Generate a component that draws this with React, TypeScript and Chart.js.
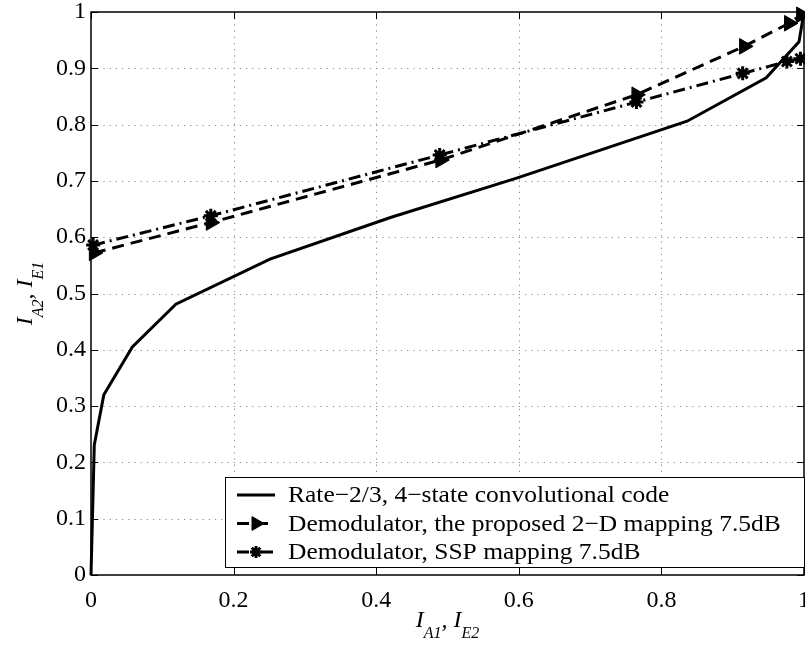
import React, { useEffect, useRef } from "react";
import { Chart, registerables } from "chart.js";

Chart.register(...registerables);

// ---- data ----
const codeX = [0, 0.0046, 0.018, 0.058, 0.119, 0.251, 0.42, 0.597, 0.836, 0.947, 0.993, 1];
const codeY = [0, 0.231, 0.32, 0.405, 0.481, 0.561, 0.635, 0.705, 0.806, 0.883, 0.947, 1];

const prop2dX = [0.004, 0.168, 0.49, 0.765, 0.916, 0.979, 0.996];
const prop2dY = [0.572, 0.626, 0.737, 0.853, 0.939, 0.98, 0.995];

const sspX = [0.003, 0.168, 0.489, 0.765, 0.914, 0.976, 0.995];
const sspY = [0.586, 0.638, 0.746, 0.84, 0.891, 0.912, 0.917];

const seriesLabels = [
  "Rate\u22122/3, 4\u2212state convolutional code",
  "Demodulator, the proposed 2\u2212D mapping 7.5dB",
  "Demodulator, SSP mapping 7.5dB",
];

const xTickValues = [0, 0.2, 0.4, 0.6, 0.8, 1];
const yTickValues = [0, 0.1, 0.2, 0.3, 0.4, 0.5, 0.6, 0.7, 0.8, 0.9, 1];

const FONT = "'Liberation Serif', 'Times New Roman', serif";

const toPts = (xs: number[], ys: number[]) => xs.map((x, i) => ({ x, y: ys[i] }));
const fmt = (v: number) => (Math.abs(v) < 1e-9 ? "0" : Math.abs(v - 1) < 1e-9 ? "1" : String(Math.round(v * 10) / 10));

const DASH = [12, 7];
const DASHDOT = [12, 5, 2, 5];

function drawMarker(ctx: CanvasRenderingContext2D, style: string, x: number, y: number, r: number, bw: number) {
  ctx.save();
  ctx.fillStyle = "#000";
  ctx.strokeStyle = "#000";
  ctx.setLineDash([]);
  ctx.lineWidth = bw;
  if (style === "triangle") {
    ctx.beginPath();
    for (let k = 0; k < 3; k++) {
      const a = (k * 2 * Math.PI) / 3;
      const px = x + Math.cos(a) * r;
      const py = y + Math.sin(a) * r;
      if (k === 0) ctx.moveTo(px, py);
      else ctx.lineTo(px, py);
    }
    ctx.closePath();
    ctx.fill();
    ctx.stroke();
  } else if (style === "star") {
    ctx.beginPath();
    for (let k = 0; k < 4; k++) {
      const a = (k * Math.PI) / 4;
      ctx.moveTo(x - Math.cos(a) * r, y - Math.sin(a) * r);
      ctx.lineTo(x + Math.cos(a) * r, y + Math.sin(a) * r);
    }
    ctx.stroke();
  }
  ctx.restore();
}

const framePlugin = {
  id: "matlabFrame",
  beforeDatasetsDraw(chart: any) {
    const { ctx, chartArea: a, scales } = chart;
    ctx.save();
    ctx.strokeStyle = "#888";
    ctx.lineWidth = 1;
    ctx.setLineDash([1.2, 5]);
    xTickValues.forEach((v) => {
      const px = Math.round(scales.x.getPixelForValue(v)) + 0.5;
      if (v > 0 && v < 1) {
        ctx.beginPath();
        ctx.moveTo(px, a.top);
        ctx.lineTo(px, a.bottom);
        ctx.stroke();
      }
    });
    yTickValues.forEach((v) => {
      const py = Math.round(scales.y.getPixelForValue(v)) + 0.5;
      if (v > 0 && v < 1) {
        ctx.beginPath();
        ctx.moveTo(a.left, py);
        ctx.lineTo(a.right, py);
        ctx.stroke();
      }
    });
    ctx.restore();
  },
  afterDatasetsDraw(chart: any) {
    const { ctx, chartArea: a, scales } = chart;
    ctx.save();
    ctx.setLineDash([]);
    ctx.strokeStyle = "#000";
    ctx.lineWidth = 1.5;
    ctx.strokeRect(a.left, a.top, a.right - a.left, a.bottom - a.top);
    ctx.lineWidth = 1;
    const tl = 7;
    xTickValues.forEach((v) => {
      const px = Math.round(scales.x.getPixelForValue(v)) + 0.5;
      ctx.beginPath();
      ctx.moveTo(px, a.bottom);
      ctx.lineTo(px, a.bottom - tl);
      ctx.moveTo(px, a.top);
      ctx.lineTo(px, a.top + tl);
      ctx.stroke();
    });
    yTickValues.forEach((v) => {
      const py = Math.round(scales.y.getPixelForValue(v)) + 0.5;
      ctx.beginPath();
      ctx.moveTo(a.left, py);
      ctx.lineTo(a.left + tl, py);
      ctx.moveTo(a.right, py);
      ctx.lineTo(a.right - tl, py);
      ctx.stroke();
    });
    ctx.restore();
  },
  afterDraw(chart: any) {
    const { ctx, chartArea: a } = chart;
    ctx.save();
    // ---- legend ----
    const boxL = a.left + 134;
    const boxT = a.bottom - 98;
    const boxR = a.right;
    const boxB = a.bottom - 8;
    ctx.fillStyle = "#fff";
    ctx.fillRect(boxL, boxT, boxR - boxL, boxB - boxT);
    ctx.strokeStyle = "#000";
    ctx.lineWidth = 1;
    ctx.strokeRect(boxL + 0.5, boxT + 0.5, boxR - boxL, boxB - boxT);
    const rowY = [boxT + 18, boxT + 46.5, boxT + 75];
    const sx0 = boxL + 12;
    const sx1 = boxL + 50;
    const mx = (sx0 + sx1) / 2;
    chart.data.datasets.forEach((ds: any, i: number) => {
      const y = rowY[i];
      ctx.save();
      ctx.strokeStyle = "#000";
      ctx.lineWidth = ds.borderWidth;
      ctx.setLineDash(ds.borderDash || []);
      ctx.beginPath();
      ctx.moveTo(sx0, y);
      ctx.lineTo(sx1, y);
      ctx.stroke();
      ctx.restore();
      if (ds.pointStyle && ds.pointRadius > 0) {
        drawMarker(ctx, ds.pointStyle, mx, y, ds.pointStyle === "triangle" ? 8 : 6, ds.pointBorderWidth);
      }
      ctx.save();
      ctx.fillStyle = "#000";
      ctx.font = `23.5px ${FONT}`;
      ctx.textBaseline = "middle";
      ctx.textAlign = "left";
      ctx.translate(boxL + 63, y + 1);
      ctx.scale(1.085, 1);
      ctx.fillText(seriesLabels[i], 0, 0);
      ctx.restore();
    });

    // ---- axis titles ----
    const drawTitle = (parts: { t: string; sub?: boolean }[], cx: number, cy: number, rot: number) => {
      ctx.save();
      ctx.translate(cx, cy);
      ctx.rotate(rot);
      ctx.fillStyle = "#000";
      ctx.textBaseline = "alphabetic";
      ctx.textAlign = "left";
      const mainF = `italic 24px ${FONT}`;
      const subF = `italic 16px ${FONT}`;
      let w = 0;
      parts.forEach((p) => {
        ctx.font = p.sub ? subF : mainF;
        w += ctx.measureText(p.t).width;
      });
      let x = -w / 2;
      parts.forEach((p) => {
        ctx.font = p.sub ? subF : mainF;
        const dy = p.sub ? 11 : 0;
        ctx.fillText(p.t, x, dy);
        x += ctx.measureText(p.t).width;
      });
      ctx.restore();
    };
    const xParts = [
      { t: "I" },
      { t: "A1", sub: true },
      { t: ", " },
      { t: "I" },
      { t: "E2", sub: true },
    ];
    const yParts = [
      { t: "I" },
      { t: "A2", sub: true },
      { t: ", " },
      { t: "I" },
      { t: "E1", sub: true },
    ];
    drawTitle(xParts, (a.left + a.right) / 2, 627, 0);
    drawTitle(yParts, 32, (a.top + a.bottom) / 2, -Math.PI / 2);
    ctx.restore();
  },
};

export default function App() {
  const ref = useRef<HTMLCanvasElement>(null);
  useEffect(() => {
    if (!ref.current) return;
    const chart = new Chart(ref.current, {
      type: "line",
      data: {
        datasets: [
          {
            label: seriesLabels[0],
            data: toPts(codeX, codeY),
            borderColor: "#000",
            backgroundColor: "#000",
            borderWidth: 3,
            pointRadius: 0,
            pointStyle: false as any,
            tension: 0,
            fill: false,
            clip: false as any,
          },
          {
            label: seriesLabels[1],
            data: toPts(prop2dX, prop2dY),
            borderColor: "#000",
            backgroundColor: "#000",
            borderWidth: 3,
            borderDash: DASH,
            pointStyle: "triangle",
            pointRotation: 90,
            pointRadius: 9,
            pointBorderWidth: 1,
            pointBackgroundColor: "#000",
            pointBorderColor: "#000",
            tension: 0,
            fill: false,
            clip: false as any,
          },
          {
            label: seriesLabels[2],
            data: toPts(sspX, sspY),
            borderColor: "#000",
            backgroundColor: "#000",
            borderWidth: 3,
            borderDash: DASHDOT,
            pointStyle: "star",
            pointRadius: 7,
            pointBorderWidth: 3,
            pointBackgroundColor: "#000",
            pointBorderColor: "#000",
            tension: 0,
            fill: false,
            clip: false as any,
          },
        ] as any,
      },
      options: {
        responsive: false,
        animation: false,
        events: [],
        layout: { autoPadding: false, padding: { top: 12, right: 1, left: 0, bottom: 0 } },
        plugins: { legend: { display: false }, tooltip: { enabled: false }, title: { display: false } },
        scales: {
          x: {
            type: "linear",
            min: 0,
            max: 1,
            grid: { display: false, drawTicks: false },
            border: { display: false },
            afterBuildTicks: (s: any) => {
              s.ticks = xTickValues.map((v) => ({ value: v }));
            },
            afterFit: (s: any) => {
              s.height = 70;
              s.paddingLeft = 0;
              s.paddingRight = 0;
            },
            ticks: {
              padding: 11,
              maxRotation: 0,
              autoSkip: false,
              color: "#000",
              font: { family: FONT, size: 24 },
              callback: (v: any) => fmt(Number(v)),
            },
          },
          y: {
            type: "linear",
            min: 0,
            max: 1,
            grid: { display: false, drawTicks: false },
            border: { display: false },
            afterBuildTicks: (s: any) => {
              s.ticks = yTickValues.map((v) => ({ value: v }));
            },
            afterFit: (s: any) => {
              s.width = 91;
              s.paddingTop = 0;
              s.paddingBottom = 0;
            },
            ticks: {
              padding: 5,
              autoSkip: false,
              color: "#000",
              font: { family: FONT, size: 24 },
              callback: (v: any) => fmt(Number(v)),
            },
          },
        },
      } as any,
      plugins: [framePlugin],
    });
    return () => chart.destroy();
  }, []);
  return (
    <div style={{ position: "fixed", left: 0, top: 0, width: 805, height: 645, background: "#fff" }}>
      <canvas ref={ref} width={805} height={645} style={{ width: 805, height: 645, display: "block" }} />
    </div>
  );
}
